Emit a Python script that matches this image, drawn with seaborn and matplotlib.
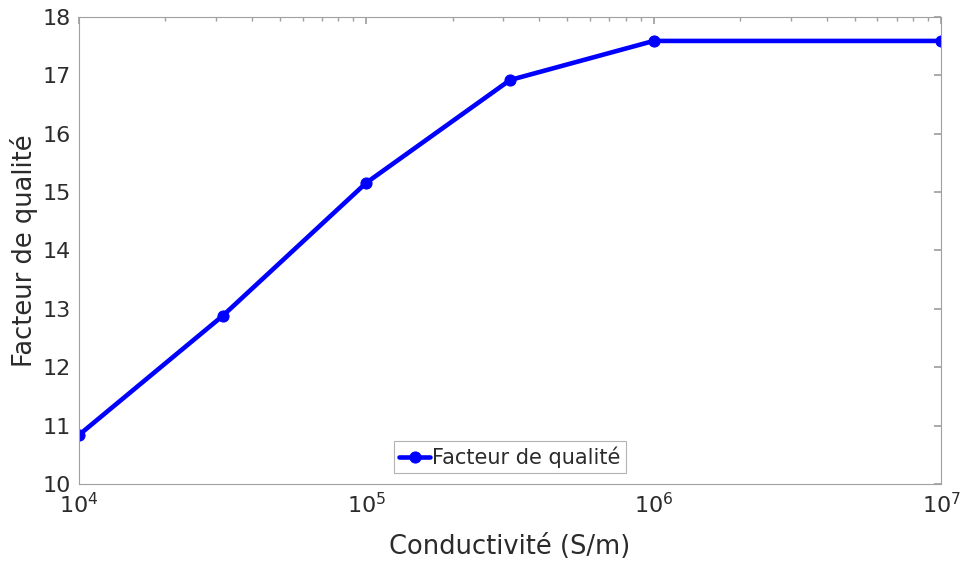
import matplotlib
matplotlib.use("Agg")
import matplotlib.pyplot as plt
import seaborn as sns
import pandas as pd
import numpy as np
from matplotlib.ticker import LogLocator

sns.set_theme(style="white")
plt.rcParams['font.family'] = ['DejaVu Sans']

conductivite = [1e4, 3.1623e4, 1e5, 3.1623e5, 1e6, 1e7]
facteur = [10.84, 12.88, 15.16, 16.92, 17.59, 17.59]
series_name = "Facteur de qualité"
yticks = [10, 11, 12, 13, 14, 15, 16, 17, 18]

df = pd.DataFrame({"x": conductivite, "y": facteur, "s": series_name})

fig = plt.figure(figsize=(9.62, 5.61), dpi=100)
ax = fig.add_axes([0.0821, 0.1373, 0.8961, 0.8324])

sns.lineplot(data=df, x="x", y="y", hue="s", palette=["#0000ff"], marker="o",
             markersize=8, markeredgecolor="#0000ff", linewidth=3.3, ax=ax)
ax.set_xscale("log")
ax.set_xlim(1e4, 1e7)
ax.set_ylim(10, 18)
ax.set_yticks(yticks)
ax.xaxis.set_major_locator(LogLocator(base=10, numticks=10))
ax.xaxis.set_minor_locator(LogLocator(base=10, subs=np.arange(2, 10), numticks=20))

for s in ax.spines.values():
    s.set_color("#a0a0a0")
    s.set_linewidth(0.8)
ax.tick_params(axis="both", which="both", direction="in", top=True, right=True,
               color="#a0a0a0", labelcolor="#2b2b2b")
ax.tick_params(axis="both", which="major", length=5, labelsize=16, pad=6)
ax.tick_params(axis="x", which="minor", length=3)
ax.tick_params(axis="y", which="minor", left=False, right=False)

ax.set_xlabel("Conductivité (S/m)", fontsize=18.5, color="#2b2b2b", labelpad=12)
ax.set_ylabel("Facteur de qualité", fontsize=18.5, color="#2b2b2b", labelpad=3)

leg = ax.legend(loc="lower center", bbox_to_anchor=(0.5, 0.01), fontsize=15,
                frameon=True, fancybox=False, handlelength=1.5, handletextpad=0.1,
                borderpad=0.25, borderaxespad=0.3)
leg.get_frame().set_edgecolor("#a0a0a0")
leg.get_frame().set_linewidth(0.8)
for t in leg.get_texts():
    t.set_color("#2b2b2b")

fig.savefig("out.png", dpi=100)
